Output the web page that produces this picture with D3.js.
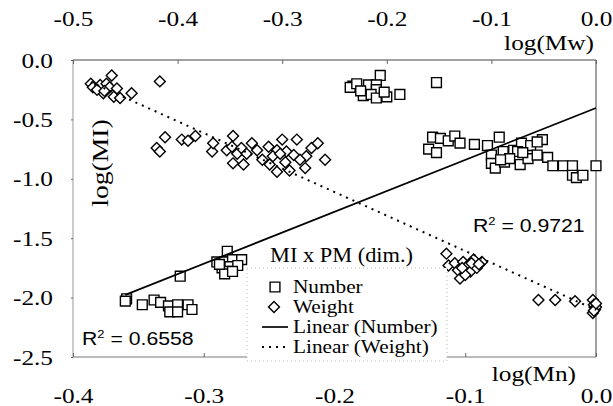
<!DOCTYPE html>
<html>
<head>
<meta charset="utf-8">
<script src="https://cdn.jsdelivr.net/npm/d3@7"></script>
<style>
  body { margin: 0; background: #fff; }
  svg text { font-family: "Liberation Serif", "Times New Roman", serif; fill: #000; }
  svg text.r2 { font-family: "Liberation Sans", Arial, sans-serif; }
</style>
</head>
<body>
<svg id="chart" width="613" height="406"></svg>
<script>
// Number series: log(Mn) (bottom axis) vs log(MI)
const numberMn = [
  -0.165, -0.186, -0.188, -0.183, -0.174, -0.168, -0.168, -0.178, -0.172, -0.168, -0.160, -0.150, -0.122, -0.180, -0.162,
  -0.128, -0.122, -0.125, -0.119, -0.113, -0.108, -0.104, -0.093, -0.083, -0.074, -0.080, -0.071, -0.063, -0.057, -0.050,
  -0.041, -0.045, -0.080, -0.077, -0.070, -0.058, -0.052, -0.045, -0.037, -0.033, -0.025, -0.018, -0.018, -0.015, -0.010,
  0.000, -0.060, -0.056, -0.066, -0.073,
  -0.359, -0.360, -0.347, -0.338, -0.333, -0.327, -0.326, -0.320, -0.320, -0.312, -0.309, -0.318,
  -0.282, -0.290, -0.284, -0.278, -0.271, -0.286, -0.280, -0.282, -0.274, -0.284, -0.278, -0.288
];
const numberMI = [
  -0.13, -0.22, -0.23, -0.20, -0.21, -0.21, -0.25, -0.30, -0.29, -0.32, -0.31, -0.29, -0.19, -0.26, -0.27,
  -0.75, -0.78, -0.65, -0.66, -0.68, -0.64, -0.70, -0.71, -0.72, -0.65, -0.80, -0.77, -0.76, -0.70, -0.72,
  -0.67, -0.69, -0.87, -0.91, -0.86, -0.88, -0.83, -0.80, -0.82, -0.89, -0.89, -0.89, -0.97, -0.99, -0.97,
  -0.89, -0.77, -0.78, -0.83, -0.84,
  -2.01, -2.03, -2.06, -2.02, -2.04, -2.07, -2.12, -2.06, -2.12, -2.06, -2.10, -1.82,
  -1.61, -1.70, -1.70, -1.68, -1.68, -1.75, -1.74, -1.78, -1.73, -1.80, -1.78, -1.72
];

// Weight series: log(Mw) (top axis) vs log(MI)
const weightMw = [
  -0.463, -0.483, -0.481, -0.474, -0.468, -0.465, -0.458, -0.471, -0.461, -0.455, -0.444, -0.417, -0.477, -0.470,
  -0.412, -0.420, -0.417, -0.396, -0.390, -0.383, -0.367, -0.366, -0.347, -0.353, -0.348, -0.343, -0.339, -0.334,
  -0.329, -0.324, -0.347, -0.337, -0.313, -0.305, -0.300, -0.286, -0.296, -0.289, -0.277, -0.309, -0.302, -0.319,
  -0.312, -0.297, -0.283, -0.272, -0.266, -0.259, -0.278, -0.293, -0.305,
  -0.143, -0.141, -0.135, -0.132, -0.130, -0.127, -0.124, -0.120, -0.117, -0.114, -0.109, -0.125, -0.119, -0.128, -0.112,
  -0.055, -0.039, -0.020, -0.003, -0.002, -0.001, -0.003, 0.000, -0.002, 0.000
];
const weightMI = [
  -0.13, -0.20, -0.23, -0.21, -0.20, -0.23, -0.24, -0.28, -0.31, -0.32, -0.28, -0.18, -0.25, -0.26,
  -0.65, -0.74, -0.77, -0.67, -0.68, -0.64, -0.77, -0.70, -0.64, -0.76, -0.73, -0.79, -0.74, -0.79,
  -0.70, -0.76, -0.87, -0.88, -0.73, -0.76, -0.67, -0.67, -0.77, -0.80, -0.81, -0.81, -0.79, -0.84,
  -0.88, -0.86, -0.84, -0.74, -0.70, -0.84, -0.91, -0.93, -0.94,
  -1.63, -1.73, -1.71, -1.77, -1.84, -1.70, -1.74, -1.78, -1.68, -1.75, -1.70, -1.81, -1.71, -1.75, -1.72,
  -2.02, -2.02, -2.03, -2.02, -2.06, -2.10, -2.13, -2.08, -2.11, -2.05
];

// linear trendlines: [slope, intercept]
const numberFit = [4.37, -0.404];
const weightFit = [-3.97, -2.104];
const r2Values = ["0.6558", "0.9721"];

const mnTicks = [-0.4, -0.3, -0.2, -0.1, 0];
const mwTicks = [-0.5, -0.4, -0.3, -0.2, -0.1, 0];
const miTicks = [0, -0.5, -1.0, -1.5, -2.0, -2.5];
const legendLabels = ["Number", "Weight", "Linear (Number)", "Linear (Weight)"];

const pL = 73, pR = 596, pT = 60, pB = 357;

const xMn = d3.scaleLinear().domain([-0.4, 0]).range([pL, pR]);
const xMw = d3.scaleLinear().domain([-0.5, 0]).range([pL, pR]);
const y = d3.scaleLinear().domain([-2.5, 0]).range([pB, pT]);

const svg = d3.select("#chart");
svg.append("rect").attr("width", 613).attr("height", 406).attr("fill", "#fff");

// widen text a little, the scanned figure has broad type
function stretch(sel, k) {
  sel.each(function() {
    const t = d3.select(this);
    const x = +t.attr("x") || 0;
    t.attr("x", x / k).attr("transform", `scale(${k},1)`);
  });
}
const fmt = d => d.toFixed(1);
const serif = '"Liberation Serif", "Times New Roman", serif';

// frame
svg.append("line").attr("x1", pL).attr("x2", pR).attr("y1", pT).attr("y2", pT).attr("stroke", "#444");
svg.append("line").attr("x1", pR).attr("x2", pR).attr("y1", pT).attr("y2", pB).attr("stroke", "#444");
svg.append("line").attr("x1", pL).attr("x2", pL).attr("y1", pT).attr("y2", pB).attr("stroke", "#999");
svg.append("line").attr("x1", pL).attr("x2", pR).attr("y1", pB).attr("y2", pB).attr("stroke", "#777");

// axes
const gBottom = svg.append("g")
  .attr("transform", `translate(0,${pB})`)
  .call(d3.axisBottom(xMn).tickValues(mnTicks).tickFormat(fmt).tickSizeInner(-4).tickSizeOuter(0).tickPadding(30));
const gTop = svg.append("g")
  .attr("transform", `translate(0,${pT})`)
  .call(d3.axisTop(xMw).tickValues(mwTicks).tickFormat(fmt).tickSizeInner(-4).tickSizeOuter(0).tickPadding(34));
const gLeft = svg.append("g")
  .attr("transform", `translate(${pL},0)`)
  .call(d3.axisLeft(y).tickValues(miTicks).tickFormat(fmt).tickSize(2).tickPadding(18));

[gBottom, gTop, gLeft].forEach(g => {
  g.select(".domain").remove();
  g.attr("font-family", serif).attr("font-size", 22);
  g.selectAll("line").attr("stroke", "#666");
  g.selectAll("text").style("font-family", serif).style("font-size", "22px").attr("fill", "#000");
  stretch(g.selectAll("text"), 1.15);
});

// markers
const numberPts = d3.zip(numberMn, numberMI);
const weightPts = d3.zip(weightMw, weightMI);

svg.append("g").selectAll("path")
  .data(numberPts)
  .join("path")
    .attr("d", d3.symbol(d3.symbolSquare, 96))
    .attr("transform", d => `translate(${xMn(d[0])},${y(d[1])})`)
    .attr("fill", "#fff")
    .attr("stroke", "#000")
    .attr("stroke-width", 1.4);

svg.append("g").selectAll("path")
  .data(weightPts)
  .join("path")
    .attr("d", d3.symbol(d3.symbolSquare, 60))
    .attr("transform", d => `translate(${xMw(d[0])},${y(d[1])}) rotate(45)`)
    .attr("fill", "#fff")
    .attr("stroke", "#000")
    .attr("stroke-width", 1.4);

// trendlines, over the data range of each series
const nLo = d3.min(numberMn), nHi = d3.max(numberMn);
const wLo = d3.min(weightMw), wHi = d3.max(weightMw);
svg.append("path")
  .attr("d", d3.line().x(d => xMn(d))
    .y(d => y(numberFit[0] * d + numberFit[1]))([nLo, nHi]))
  .attr("stroke", "#000").attr("stroke-width", 1.7).attr("fill", "none");
svg.append("path")
  .attr("d", d3.line().x(d => xMw(d))
    .y(d => y(weightFit[0] * d + weightFit[1]))([wLo, wHi]))
  .attr("stroke", "#000").attr("stroke-width", 2).attr("stroke-dasharray", "2,5").attr("fill", "none");

// legend
const lg = svg.append("g");
lg.append("rect")
  .attr("x", 247).attr("y", 268).attr("width", 200).attr("height", 93)
  .attr("fill", "#fff").attr("stroke", "#bbb").attr("stroke-dasharray", "1,3");
const rowY = [287, 307, 327, 347];
lg.append("path").attr("d", d3.symbol(d3.symbolSquare, 96))
  .attr("transform", `translate(275,${rowY[0]})`).attr("fill", "#fff").attr("stroke", "#000").attr("stroke-width", 1.4);
lg.append("path").attr("d", d3.symbol(d3.symbolSquare, 60))
  .attr("transform", `translate(274,${rowY[1]}) rotate(45)`).attr("fill", "#fff").attr("stroke", "#000").attr("stroke-width", 1.4);
lg.append("line").attr("x1", 262).attr("x2", 288).attr("y1", rowY[2]).attr("y2", rowY[2])
  .attr("stroke", "#000").attr("stroke-width", 1.7);
lg.append("line").attr("x1", 262).attr("x2", 290).attr("y1", rowY[3]).attr("y2", rowY[3])
  .attr("stroke", "#000").attr("stroke-width", 2).attr("stroke-dasharray", "2,5");
lg.selectAll("text.item")
  .data(legendLabels)
  .join("text")
    .attr("class", "item")
    .attr("x", 293)
    .attr("y", (d, i) => rowY[i] + 6)
    .attr("font-size", 19)
    .text(d => d)
    .call(stretch, 1.12);

svg.append("text").attr("x", 270).attr("y", 262).attr("font-size", 20)
  .text("MI x PM (dim.)").call(stretch, 1.12);

// axis titles
svg.append("text").attr("x", 594).attr("y", 50).attr("font-size", 22)
  .attr("text-anchor", "end").text("log(Mw)").call(stretch, 1.15);
svg.append("text").attr("x", 576).attr("y", 381).attr("font-size", 22)
  .attr("text-anchor", "end").text("log(Mn)").call(stretch, 1.15);
svg.append("text").attr("font-size", 23).attr("text-anchor", "middle")
  .attr("transform", "translate(108,163) rotate(-90) scale(1.2,1)")
  .text("log(MI)");

// R² labels
function r2Label(x, yy, val) {
  const t = svg.append("text").attr("class", "r2").attr("x", x).attr("y", yy).attr("font-size", 18);
  t.append("tspan").text("R");
  t.append("tspan").attr("font-size", 11).attr("dy", -7).text("2");
  t.append("tspan").attr("dy", 7).text(" = " + val);
  stretch(t, 1.18);
}
r2Label(82, 345, r2Values[0]);
r2Label(473, 232, r2Values[1]);
</script>
</body>
</html>
